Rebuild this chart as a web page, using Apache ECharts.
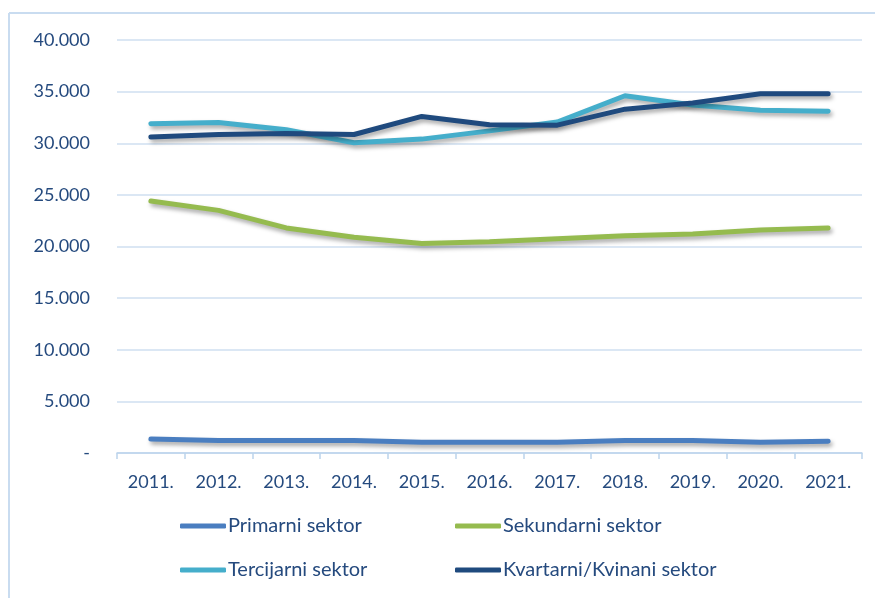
<!DOCTYPE html>
<html>
<head>
<meta charset="utf-8">
<script src="https://cdn.jsdelivr.net/npm/echarts@6/dist/echarts.min.js"></script>
<style>
  html, body { margin: 0; padding: 0; background: #fff; }
  #chart { width: 875px; height: 598px; }
</style>
</head>
<body>
<div id="chart"></div>
<script>
const years = ['2011.', '2012.', '2013.', '2014.', '2015.', '2016.', '2017.', '2018.', '2019.', '2020.', '2021.'];
const primarni = [1350, 1200, 1200, 1200, 1050, 1050, 1050, 1200, 1200, 1050, 1150];
const sekundarni = [24400, 23500, 21800, 20900, 20300, 20450, 20750, 21050, 21200, 21600, 21800];
const tercijarni = [31900, 32000, 31300, 30050, 30400, 31200, 32050, 34600, 33700, 33200, 33100];
const kvartarni = [30600, 30850, 30950, 30850, 32600, 31800, 31750, 33300, 33900, 34800, 34800];

const textColor = '#254a7e';
const font = 'Lato';

const myChart = echarts.init(document.getElementById('chart'));

const mkSeries = (name, data, color) => ({
    name: name,
    type: 'line',
    data: data,
    symbol: 'none',
    smooth: false,
    lineStyle: {
        width: 5,
        color: color,
        cap: 'round',
        join: 'round',
        shadowColor: 'rgba(0,0,0,0.35)',
        shadowBlur: 4,
        shadowOffsetX: 2,
        shadowOffsetY: 3,
    },
    itemStyle: { color: color },
});

const mkLegend = (name, left, top) => ({
    data: [name],
    left: left,
    top: top,
    icon: 'roundRect',
    itemWidth: 46,
    itemHeight: 5,
    itemGap: 0,
    padding: 0,
    textStyle: { color: textColor, fontFamily: font, fontSize: 20, padding: [0, 0, 0, -3] },
});

const option = {
    animation: false,
    backgroundColor: '#fff',
    grid: { left: 117, right: 13, top: 40, bottom: 145 },
    legend: [
        mkLegend('Primarni sektor', 180, 516),
        mkLegend('Sekundarni sektor', 455, 516),
        mkLegend('Tercijarni sektor', 180, 560),
        mkLegend('Kvartarni/Kvinani sektor', 455, 560),
    ],
    graphic: [
        { type: 'line', shape: { x1: 9, y1: 13, x2: 875, y2: 13 }, style: { stroke: '#c9dcf0', lineWidth: 2 } },
        { type: 'line', shape: { x1: 9, y1: 13, x2: 9, y2: 598 }, style: { stroke: '#c9dcf0', lineWidth: 2 } },
    ],
    xAxis: {
        type: 'category',
        data: years,
        boundaryGap: true,
        axisLine: { lineStyle: { color: '#bcd3ec', width: 1.5 } },
        axisTick: { show: true, length: 6, lineStyle: { color: '#bcd3ec', width: 1.5 } },
        axisLabel: { color: textColor, fontFamily: font, fontSize: 18, margin: 20 },
    },
    yAxis: {
        type: 'value',
        min: 0,
        max: 40000,
        interval: 5000,
        axisLine: { show: false },
        axisTick: { show: false },
        splitLine: { lineStyle: { color: '#cfdff0', width: 1.5 } },
        axisLabel: {
            color: textColor,
            fontFamily: font,
            fontSize: 18,
            margin: 27,
            formatter: (v) => (v === 0 ? '-' : v.toLocaleString('de-DE')),
        },
    },
    series: [
        mkSeries('Primarni sektor', primarni, '#4a7ec0'),
        mkSeries('Sekundarni sektor', sekundarni, '#95bb4f'),
        mkSeries('Tercijarni sektor', tercijarni, '#45aecb'),
        mkSeries('Kvartarni/Kvinani sektor', kvartarni, '#1f4a7e'),
    ],
};

myChart.setOption(option);
</script>
</body>
</html>
